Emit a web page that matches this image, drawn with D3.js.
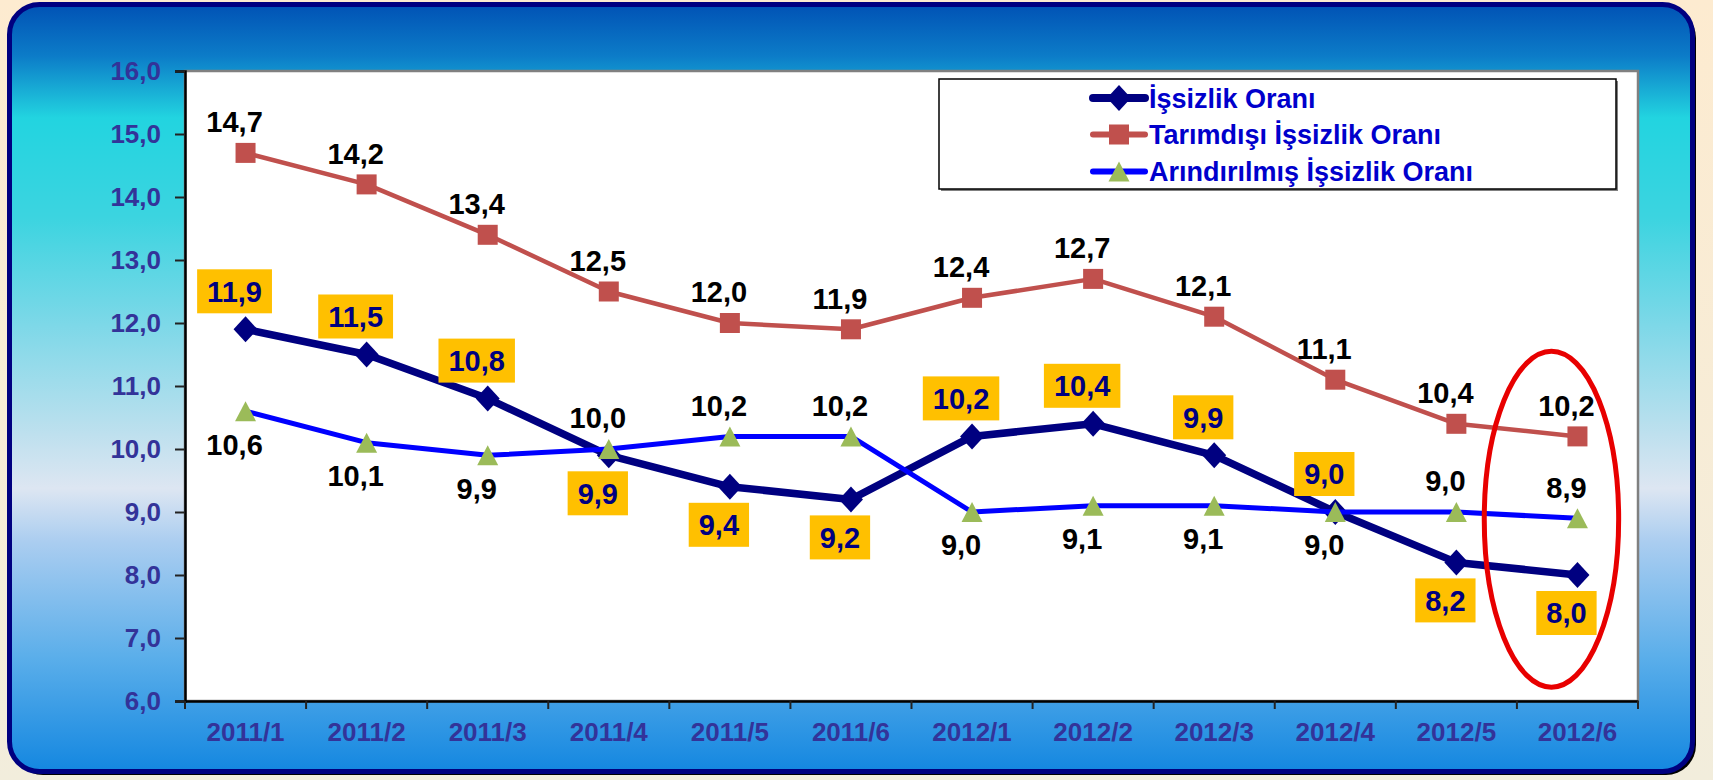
<!DOCTYPE html>
<html>
<head>
<meta charset="utf-8">
<script src="https://cdn.jsdelivr.net/npm/d3@7"></script>
<style>
  html, body { margin: 0; padding: 0; background: #F6ECD6; }
  svg { display: block; }
  text { font-family: "Liberation Sans", Arial, sans-serif; font-weight: bold; }
</style>
</head>
<body>
<svg id="chart" width="1713" height="780"></svg>
<script>
// ---- data ----
const categories = ["2011/1","2011/2","2011/3","2011/4","2011/5","2011/6","2012/1","2012/2","2012/3","2012/4","2012/5","2012/6"];
const issizlik = [11.9, 11.5, 10.8, 9.9, 9.4, 9.2, 10.2, 10.4, 9.9, 9.0, 8.2, 8.0];
const tarimdisi = [14.7, 14.2, 13.4, 12.5, 12.0, 11.9, 12.4, 12.7, 12.1, 11.1, 10.4, 10.2];
const arindirilmis = [10.6, 10.1, 9.9, 10.0, 10.2, 10.2, 9.0, 9.1, 9.1, 9.0, 9.0, 8.9];
const yTicks = [6, 7, 8, 9, 10, 11, 12, 13, 14, 15, 16];
const seriesNames = ["İşsizlik Oranı", "Tarımdışı İşsizlik Oranı", "Arındırılmış İşsizlik Oranı"];
const issizlikLabelSide = ["above","above","above","below","below","below","above","above","above","above","below","below"];
const tarimdisiLabelSide = ["above","above","above","above","above","above","above","above","above","above","above","above"];
const arindirilmisLabelSide = ["below","below","below","above","above","above","below","below","below","below","above","above"];
const highlight = { category: "2012/6", top: 11.55, bottom: 6.22 };

const fmt = v => d3.format(".1f")(v).replace(".", ",");

const svg = d3.select("#chart");
const defs = svg.append("defs");

// page background
const bg = defs.append("linearGradient").attr("id","bg").attr("x1",0).attr("y1",0).attr("x2",0).attr("y2",1);
bg.append("stop").attr("offset",0).attr("stop-color","#FDEBD0");
bg.append("stop").attr("offset",1).attr("stop-color","#F2EDDC");
svg.append("rect").attr("width",1713).attr("height",780).attr("fill","url(#bg)");

// frame gradient
const fg = defs.append("linearGradient").attr("id","fg").attr("gradientUnits","userSpaceOnUse")
  .attr("x1",0).attr("y1",2).attr("x2",0).attr("y2",774);
[[0,"#0050B4"],[0.07,"#0C7CC8"],[0.15,"#22D4E0"],[0.28,"#3CD4E0"],[0.42,"#7ED8E8"],
 [0.56,"#BEE0EE"],[0.63,"#DDE6F2"],[0.70,"#AACDF0"],[0.85,"#5AAEEA"],[1,"#1286E0"]]
 .forEach(([o,c]) => fg.append("stop").attr("offset",o).attr("stop-color",c));

svg.append("rect").attr("x",13).attr("y",8).attr("width",1683).attr("height",767)
  .attr("rx",30).attr("fill","#000");
svg.append("rect").attr("x",9.5).attr("y",4.5).attr("width",1683).attr("height",767)
  .attr("rx",30).attr("fill","url(#fg)").attr("stroke","#000080").attr("stroke-width",5);

// scales
const x = d3.scaleBand().domain(categories).range([185, 1638]);
const y = d3.scaleLinear().domain([6, 16]).range([701, 71]);
const cx = c => x(c) + x.bandwidth() / 2;

// plot area
svg.append("rect").attr("x",185).attr("y",71).attr("width",1638-185).attr("height",701-71)
  .attr("fill","#fff").attr("stroke","#808080").attr("stroke-width",2.5);

// y axis
const yAxis = svg.append("g").attr("transform","translate(185,0)")
  .call(d3.axisLeft(y).tickValues(yTicks).tickSize(10).tickPadding(14).tickFormat(fmt));
yAxis.select(".domain").attr("stroke","#000").attr("stroke-width",2.5);
yAxis.selectAll(".tick line").attr("stroke","#222").attr("stroke-width",2);
yAxis.selectAll(".tick text").attr("fill","#333399").style("font-size","26px")
  .style("font-family","'Liberation Sans', Arial, sans-serif").style("font-weight","bold");

// x axis
const xAxis = svg.append("g").attr("transform","translate(0,701)")
  .call(d3.axisBottom(x).tickSize(0).tickPadding(22));
xAxis.select(".domain").attr("stroke","#000").attr("stroke-width",2.5);
xAxis.selectAll(".tick text").attr("fill","#333399").style("font-size","26px")
  .style("font-family","'Liberation Sans', Arial, sans-serif").style("font-weight","bold");
const boundaries = categories.map(c => x(c)).concat([x.range()[1]]);
svg.append("g").selectAll("line").data(boundaries).join("line")
  .attr("x1", d => d).attr("x2", d => d).attr("y1",701).attr("y2",709)
  .attr("stroke","#222").attr("stroke-width",2);

// markers
function diamond(g, color) { g.append("path").attr("d","M0,-13L12,0L0,13L-12,0Z").attr("fill",color); }
function square(g, color) { g.append("rect").attr("x",-10).attr("y",-10).attr("width",20).attr("height",20).attr("fill",color); }
function triangle(g, color) { g.append("path").attr("d","M0,-10L10.5,10L-10.5,10Z").attr("fill",color); }

const series = [
  { name: seriesNames[0], values: issizlik, color: "#000080", width: 7.5, marker: diamond, mcolor: "#000080", sides: issizlikLabelSide, boxed: true },
  { name: seriesNames[1], values: tarimdisi, color: "#C0504D", width: 4.5, marker: square, mcolor: "#C0504D", sides: tarimdisiLabelSide, boxed: false },
  { name: seriesNames[2], values: arindirilmis, color: "#0000FF", width: 5, marker: triangle, mcolor: "#9BBB59", sides: arindirilmisLabelSide, boxed: false }
];

const line = d3.line().x((d,i) => cx(categories[i])).y(d => y(d));
series.forEach(s => {
  svg.append("path").datum(s.values).attr("d", line).attr("fill","none")
    .attr("stroke", s.color).attr("stroke-width", s.width).attr("stroke-linejoin","round");
  s.values.forEach((v,i) => {
    const g = svg.append("g").attr("transform", `translate(${cx(categories[i])},${y(v)})`);
    s.marker(g, s.mcolor);
  });
});

// highlight ellipse
const eTop = y(highlight.top), eBot = y(highlight.bottom);
svg.append("ellipse")
  .attr("cx", cx(highlight.category) - 26)
  .attr("cy", (eTop + eBot) / 2)
  .attr("rx", x.bandwidth() * 0.555)
  .attr("ry", (eBot - eTop) / 2)
  .attr("fill","none").attr("stroke","#E80000").attr("stroke-width",5);

// data labels
const labelFont = 29;
const capHalf = labelFont * 0.716 / 2;
series.forEach(s => {
  s.values.forEach((v,i) => {
    const px = cx(categories[i]) - 11;
    const py = y(v);
    const above = s.sides[i] === "above";
    if (s.boxed) {
      const c = above ? py - 38 : py + 38;
      const g = svg.append("g");
      const r = g.append("rect").attr("fill","#FFC000");
      const t = g.append("text").attr("x",px).attr("y",c + capHalf).attr("text-anchor","middle")
        .attr("fill","#000080").style("font-size", labelFont + "px").text(fmt(v));
      const w = t.node().getComputedTextLength() + 20;
      r.attr("x", px - w/2).attr("y", c - 22).attr("width", w).attr("height", 44);
    } else {
      const c = above ? py - 31 : py + 33;
      svg.append("text").attr("x",px).attr("y",c + capHalf).attr("text-anchor","middle")
        .attr("fill","#000").style("font-size", labelFont + "px").text(fmt(v));
    }
  });
});

// legend
const lg = svg.append("g");
lg.append("rect").attr("x",941).attr("y",81).attr("width",677).attr("height",110).attr("fill","#808080");
lg.append("rect").attr("x",939).attr("y",79).attr("width",677).attr("height",110)
  .attr("fill","#fff").attr("stroke","#000").attr("stroke-width",1.5);
const rowY = [98, 134.5, 171.5];
series.forEach((s,i) => {
  lg.append("line").attr("x1",1093).attr("x2",1145).attr("y1",rowY[i]).attr("y2",rowY[i])
    .attr("stroke", s.color).attr("stroke-width", i === 0 ? 8 : 6).attr("stroke-linecap","round");
  const g = lg.append("g").attr("transform",`translate(1119,${rowY[i]})`);
  s.marker(g, s.mcolor);
  lg.append("text").attr("x",1149).attr("y",rowY[i] + 9.8).attr("fill","#0000CC")
    .style("font-size","27px").text(s.name);
});
</script>
</body>
</html>
